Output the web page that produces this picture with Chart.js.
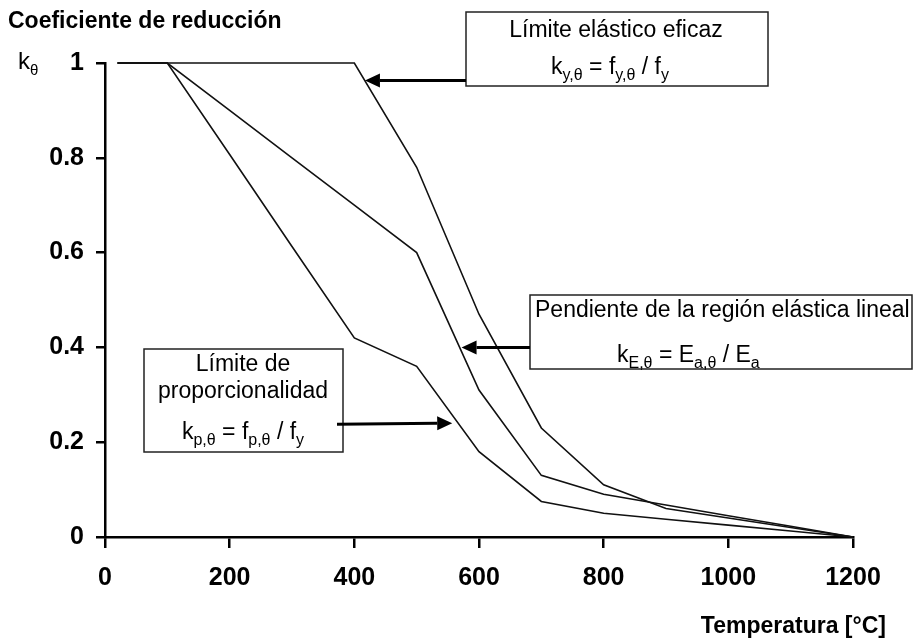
<!DOCTYPE html>
<html>
<head>
<meta charset="utf-8">
<script src="https://cdn.jsdelivr.net/npm/chart.js@4.4.0/dist/chart.umd.min.js"></script>
<style>
  html, body { margin: 0; padding: 0; background: #fff; }
  #wrap { width: 914px; height: 639px; }
</style>
</head>
<body>
<div id="wrap"><canvas id="reductionChart" width="914" height="639"></canvas></div>
<script>
const temperatures = [20, 100, 200, 300, 400, 500, 600, 700, 800, 900, 1000, 1100, 1200];
const kYield = [1, 1, 1, 1, 1, 0.78, 0.47, 0.23, 0.11, 0.06, 0.04, 0.02, 0];
const kElastic = [1, 1, 0.9, 0.8, 0.7, 0.6, 0.31, 0.13, 0.09, 0.0675, 0.045, 0.0225, 0];
const kProportional = [1, 1, 0.807, 0.613, 0.42, 0.36, 0.18, 0.075, 0.05, 0.0375, 0.025, 0.0125, 0];
const xTicks = [0, 200, 400, 600, 800, 1000, 1200];
const yTicks = [0, 0.2, 0.4, 0.6, 0.8, 1];
// where the arrows touch the curves (temperature, k)
const arrowYield = [417, 0.963];
const arrowElastic = [572, 0.40];
const arrowProp = [557, 0.24];

const FONT = '"Liberation Sans", Arial, sans-serif';

function pts(vals) {
    return temperatures.map((t, i) => ({ x: t, y: vals[i] }));
}

function lineSet(label, vals) {
    return {
        label: label,
        data: pts(vals),
        borderColor: '#111',
        borderWidth: 1.6,
        pointRadius: 0,
        fill: false,
        tension: 0,
        clip: false
    };
}

// text with subscripts: parts = [[text, isSub], ...]
function richWidth(ctx, parts, size, subSize) {
    let w = 0;
    parts.forEach(p => {
        ctx.font = (p[1] ? subSize : size) + 'px ' + FONT;
        w += ctx.measureText(p[0]).width;
    });
    return w;
}

function drawRich(ctx, parts, x, y, size, subSize, align) {
    let w = richWidth(ctx, parts, size, subSize);
    let cx = align === 'center' ? x - w / 2 : x;
    ctx.textAlign = 'left';
    ctx.textBaseline = 'alphabetic';
    parts.forEach(p => {
        ctx.font = (p[1] ? subSize : size) + 'px ' + FONT;
        ctx.fillText(p[0], cx, p[1] ? y + 6 : y);
        cx += ctx.measureText(p[0]).width;
    });
}

function arrow(ctx, x0, y0, x1, y1) {
    let ang = Math.atan2(y1 - y0, x1 - x0);
    let len = 15, half = 7;
    let bx = x1 - len * Math.cos(ang), by = y1 - len * Math.sin(ang);
    ctx.strokeStyle = '#000';
    ctx.lineWidth = 3;
    ctx.beginPath();
    ctx.moveTo(x0, y0);
    ctx.lineTo(bx, by);
    ctx.stroke();
    ctx.fillStyle = '#000';
    ctx.beginPath();
    ctx.moveTo(x1, y1);
    ctx.lineTo(bx + half * Math.sin(ang), by - half * Math.cos(ang));
    ctx.lineTo(bx - half * Math.sin(ang), by + half * Math.cos(ang));
    ctx.closePath();
    ctx.fill();
}

function box(ctx, x, y, w, h) {
    ctx.fillStyle = '#fff';
    ctx.fillRect(x, y, w, h);
    ctx.strokeStyle = '#222';
    ctx.lineWidth = 1.5;
    ctx.strokeRect(x, y, w, h);
}

const labelsPlugin = {
    id: 'labels',
    afterDraw(chart) {
        const ctx = chart.ctx;
        const xs = chart.scales.x, ys = chart.scales.y;
        ctx.save();
        ctx.fillStyle = '#000';

        // titles
        ctx.font = 'bold 23px ' + FONT;
        ctx.textAlign = 'left';
        ctx.textBaseline = 'middle';
        ctx.fillText('Coeficiente de reducción', 8, 22);
        ctx.textAlign = 'right';
        ctx.fillText('Temperatura [°C]', 886, 627);
        drawRich(ctx, [['k', false], ['θ', true]], 18, 69, 24, 15, 'left');

        // yield strength
        box(ctx, 466, 12, 302, 74);
        let tx = xs.getPixelForValue(arrowYield[0]), ty = ys.getPixelForValue(arrowYield[1]);
        arrow(ctx, 466, ty, tx, ty);
        ctx.fillStyle = '#000';
        ctx.font = '23px ' + FONT;
        ctx.textAlign = 'center';
        ctx.textBaseline = 'middle';
        ctx.fillText('Límite elástico eficaz', 616, 31);
        drawRich(ctx, [['k', false], ['y,θ', true], [' = f', false], ['y,θ', true], [' / f', false], ['y', true]], 610, 74, 23, 16, 'center');

        // elastic slope
        box(ctx, 530, 295, 382, 74);
        tx = xs.getPixelForValue(arrowElastic[0]); ty = ys.getPixelForValue(arrowElastic[1]);
        arrow(ctx, 530, ty, tx, ty);
        ctx.fillStyle = '#000';
        ctx.font = '23px ' + FONT;
        ctx.textAlign = 'left';
        ctx.textBaseline = 'middle';
        ctx.fillText('Pendiente de la región elástica lineal', 535, 311);
        drawRich(ctx, [['k', false], ['E,θ', true], [' = E', false], ['a,θ', true], [' / E', false], ['a', true]], 617, 362, 23, 16, 'left');

        // proportional limit
        box(ctx, 144, 349, 199, 103);
        tx = xs.getPixelForValue(arrowProp[0]); ty = ys.getPixelForValue(arrowProp[1]);
        arrow(ctx, 337, ty + 1, tx, ty);
        ctx.fillStyle = '#000';
        ctx.font = '23px ' + FONT;
        ctx.textAlign = 'center';
        ctx.textBaseline = 'middle';
        ctx.fillText('Límite de', 243, 365);
        ctx.fillText('proporcionalidad', 243, 392);
        drawRich(ctx, [['k', false], ['p,θ', true], [' = f', false], ['p,θ', true], [' / f', false], ['y', true]], 243, 439, 23, 16, 'center');

        ctx.restore();
    }
};

new Chart(document.getElementById('reductionChart'), {
    type: 'line',
    data: {
        datasets: [
            lineSet('k_y', kYield),
            lineSet('k_E', kElastic),
            lineSet('k_p', kProportional)
        ]
    },
    options: {
        responsive: false,
        animation: false,
        devicePixelRatio: 1,
        layout: { padding: { top: 63, right: 61, left: 0, bottom: 0 } },
        plugins: { legend: { display: false }, tooltip: { enabled: false } },
        scales: {
            x: {
                type: 'linear',
                min: 0,
                max: 1200,
                afterBuildTicks: s => { s.ticks = xTicks.map(v => ({ value: v })); },
                afterFit: s => { s.height = 102; },
                border: { display: true, color: '#000', width: 2.5 },
                grid: { drawOnChartArea: false, drawTicks: true, tickLength: 11, color: '#000', lineWidth: 2.5 },
                ticks: {
                    color: '#000', padding: 15, maxRotation: 0,
                    font: { family: FONT, size: 25, weight: 'bold' },
                    callback: v => String(v)
                }
            },
            y: {
                min: 0,
                max: 1,
                afterBuildTicks: s => { s.ticks = yTicks.map(v => ({ value: v })); },
                afterFit: s => { s.width = 105; },
                border: { display: true, color: '#000', width: 2.5 },
                grid: { drawOnChartArea: false, drawTicks: true, tickLength: 9, color: '#000', lineWidth: 2.5 },
                ticks: {
                    color: '#000', padding: 12,
                    font: { family: FONT, size: 25, weight: 'bold' },
                    callback: v => String(+v.toFixed(1))
                }
            }
        }
    },
    plugins: [labelsPlugin]
});
</script>
</body>
</html>
